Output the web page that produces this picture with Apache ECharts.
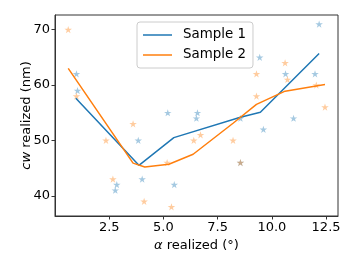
<!DOCTYPE html>
<html>
<head>
<meta charset="utf-8">
<script src="https://cdn.jsdelivr.net/npm/echarts@6/dist/echarts.min.js"></script>
<style>html,body{margin:0;padding:0;background:#fff;}#c{width:357px;height:268px;}</style>
</head>
<body>
<div id="c"></div>
<script>
// Line data (mean curves)
const s1LineX = [0.96, 3.87, 5.48, 8.55, 9.47, 12.18];
const s1LineY = [57.6, 45.5, 50.5, 54.2, 55.1, 65.7];
const s2LineX = [0.61, 3.6, 4.14, 5.25, 6.37, 8.21, 9.29, 10.61, 12.45];
const s2LineY = [63.0, 45.9, 45.2, 45.7, 47.5, 53.1, 56.5, 58.9, 60.1];
// Scatter (star) data
const s1PtsX = [0.99, 1.04, 2.78, 2.85, 3.84, 4.02, 5.2, 5.5, 6.52, 6.57, 8.55, 8.55, 9.44, 9.61, 10.63, 11.0, 11.99, 12.18];
const s1PtsY = [62, 59, 41, 42, 50, 43, 55, 42, 54, 55, 54, 46, 65, 52, 62, 54, 62, 71];
const s2PtsX = [0.61, 0.99, 2.35, 2.67, 3.6, 4.11, 5.17, 5.37, 6.4, 6.71, 8.21, 8.55, 9.29, 9.29, 10.61, 10.72, 12.05, 12.45];
const s2PtsY = [70, 58, 50, 43, 53, 39, 46, 38, 50, 51, 50, 46, 62, 58, 64, 61, 60, 56];
// Ticks
const xTicks = [2.5, 5.0, 7.5, 10.0, 12.5];
const yTicks = [40, 50, 60, 70];
const seriesNames = ['Sample 1', 'Sample 2'];

const zip = (a, b) => a.map((v, i) => [v, b[i]]);
const star = 'path://M50 0 L61.23 34.55 L97.55 34.55 L68.16 55.9 L79.39 90.45 L50 69.1 L20.61 90.45 L31.84 55.9 L2.45 34.55 L38.77 34.55 Z';
const F = 'DejaVu Sans';
const blue = '#1f77b4', orange = '#ff7f0e';

const chart = echarts.init(document.getElementById('c'), null, {renderer: 'canvas'});
chart.setOption({
  animation: false,
  grid: {left: 55, right: 19, top: 15, bottom: 52, show: true, borderColor: '#333', borderWidth: 1, backgroundColor: 'transparent'},
  legend: {
    data: seriesNames.map(n => ({name: n, icon: 'rect'})),
    left: 137, top: 22,
    orient: 'vertical',
    itemWidth: 29, itemHeight: 1.5, itemGap: 4,
    padding: [5, 7, 5, 6],
    borderColor: '#ccc', borderWidth: 1, borderRadius: 3,
    backgroundColor: '#fff',
    textStyle: {fontFamily: F, fontSize: 13.4, color: '#000', padding: [0, 0, 0, 6], lineHeight: 16}
  },
  xAxis: {
    type: 'value', min: 0, max: 13.05,
    name: '{i|α} realized (°)', nameLocation: 'middle', nameGap: 19,
    nameTextStyle: {fontFamily: F, fontSize: 13, color: '#000', rich: {i: {fontFamily: F, fontSize: 13, fontStyle: 'italic', color: '#000'}}},
    axisLine: {show: true, lineStyle: {color: '#333', width: 1}},
    axisTick: {show: true, length: 3.5, lineStyle: {color: '#333'}, customValues: xTicks},
    axisLabel: {fontFamily: F, fontSize: 13, color: '#000', margin: 5, customValues: xTicks, formatter: v => v.toFixed(1)},
    splitLine: {show: false}
  },
  yAxis: {
    type: 'value', min: 36.35, max: 72.65,
    name: '{i|cw} realized (nm)', nameLocation: 'middle', nameGap: 22, nameMoveOverlap: false,
    nameTextStyle: {fontFamily: F, fontSize: 13, color: '#000', rich: {i: {fontFamily: F, fontSize: 13, fontStyle: 'italic', color: '#000'}}},
    axisLine: {show: true, lineStyle: {color: '#333', width: 1}},
    axisTick: {show: true, length: 3.5, lineStyle: {color: '#333'}, customValues: yTicks},
    axisLabel: {fontFamily: F, fontSize: 13, color: '#000', margin: 5, customValues: yTicks},
    splitLine: {show: false}
  },
  series: [
    {type: 'scatter', name: 'pts1', data: zip(s1PtsX, s1PtsY), symbol: star, symbolSize: [7.5, 7.2], itemStyle: {color: blue, opacity: 0.4}, z: 1},
    {type: 'scatter', name: 'pts2', data: zip(s2PtsX, s2PtsY), symbol: star, symbolSize: [7.5, 7.2], itemStyle: {color: orange, opacity: 0.4}, z: 1},
    {type: 'line', name: seriesNames[0], data: zip(s1LineX, s1LineY), symbol: 'none', lineStyle: {color: blue, width: 1.5}, itemStyle: {color: blue}, z: 3},
    {type: 'line', name: seriesNames[1], data: zip(s2LineX, s2LineY), symbol: 'none', lineStyle: {color: orange, width: 1.5}, itemStyle: {color: orange}, z: 3}
  ]
});
</script>
</body>
</html>
